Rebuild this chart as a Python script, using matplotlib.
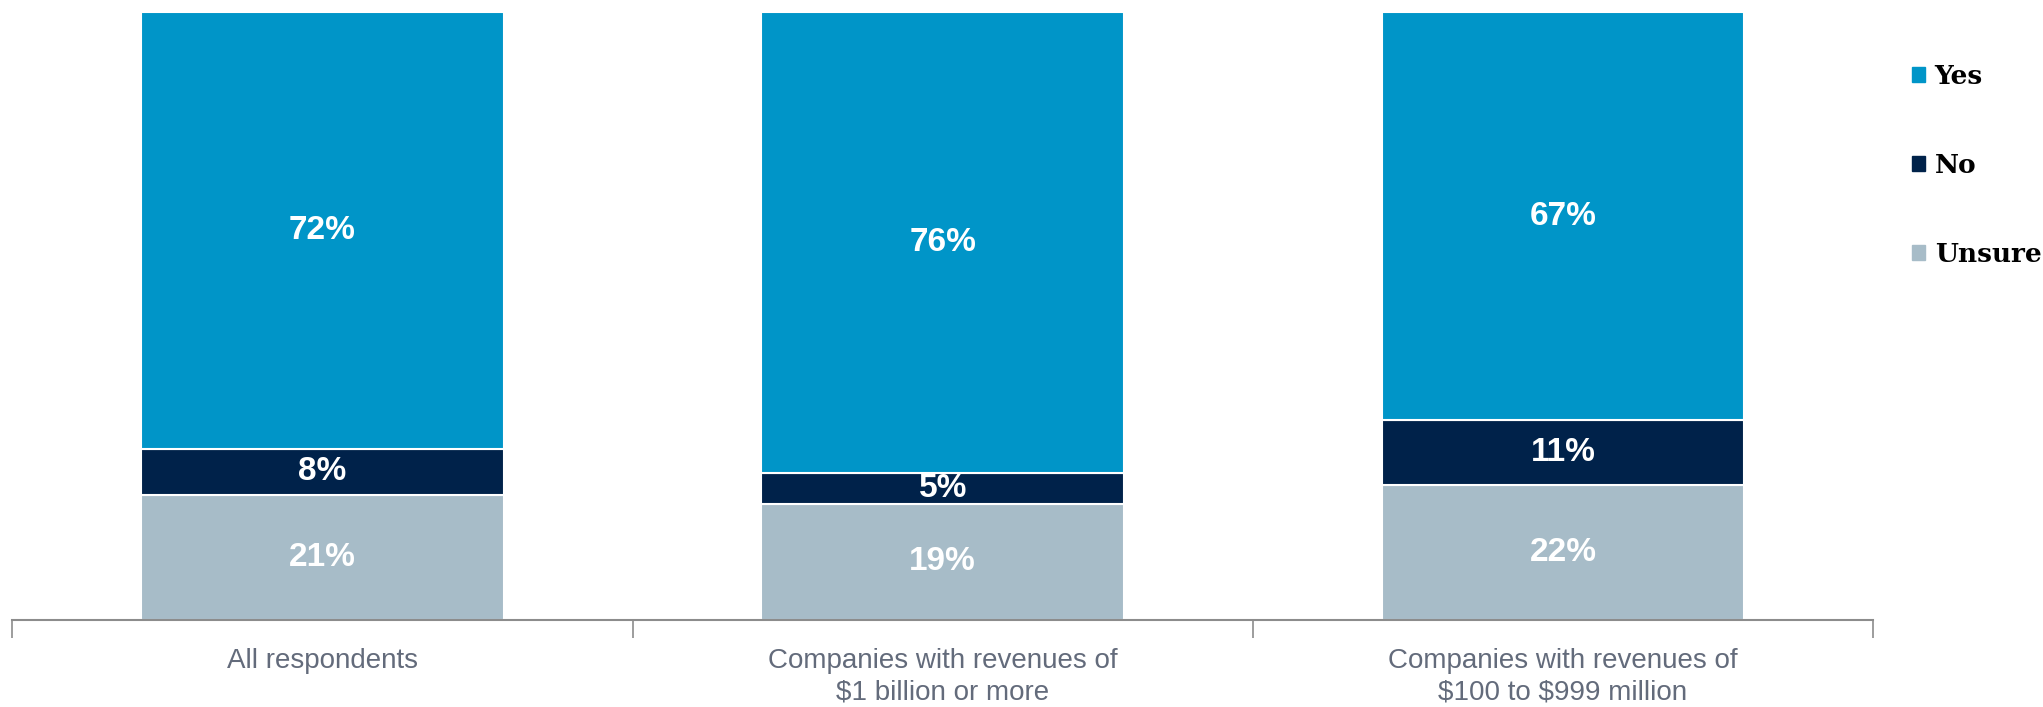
import numpy as np
import matplotlib
matplotlib.use("Agg")
import matplotlib.pyplot as plt
from matplotlib.patches import Patch

categories = ["All respondents",
              "Companies with revenues of\n\\$1 billion or more",
              "Companies with revenues of\n\\$100 to \\$999 million"]
yes = [71.8, 75.8, 67.1]
no = [7.6, 5.1, 10.7]
unsure = [20.6, 19.1, 22.2]

series = [("Unsure", unsure, "#a7bcc8"),
          ("No", no, "#00224a"),
          ("Yes", yes, "#0095c8")]

fig = plt.figure(figsize=(20.43, 7.07), dpi=100)
ax = fig.add_axes([0.0061, 0.123, 0.9107, 0.860])

x = np.arange(len(categories))
bottom = np.zeros(len(categories))
for name, vals, color in series:
    vals = np.array(vals)
    ax.bar(x, vals, width=0.585, bottom=bottom, color=color,
           edgecolor="white", linewidth=1.5, label=name)
    for xi, b, v in zip(x, bottom, vals):
        ax.text(xi, b + v / 2, f"{v:.0f}%", ha="center", va="center",
                color="white", fontsize=24, fontweight="bold",
                family="Liberation Sans")
    bottom += vals

ax.set_xlim(-0.5, 2.5)
ax.set_ylim(0, 100)
for s in ["top", "right", "left"]:
    ax.spines[s].set_visible(False)
ax.spines["bottom"].set_color("#8c8c8c")
ax.spines["bottom"].set_linewidth(1.5)
ax.set_yticks([])

ax.set_xticks(x)
ax.set_xticklabels(categories, fontsize=20, color="#636b7b",
                   family="Liberation Sans", linespacing=1.3)
ax.tick_params(axis="x", which="major", length=0, pad=20)
ax.set_xticks([-0.5, 0.5, 1.5, 2.5], minor=True)
ax.tick_params(axis="x", which="minor", length=13, width=1.2,
               color="#8c8c8c", direction="out")

handles = [Patch(color=c, label=n) for n, _, c in series[::-1]]
fig.legend(handles=handles, loc="center left", bbox_to_anchor=(0.936, 0.766),
           frameon=False, borderaxespad=0, borderpad=0,
           handlelength=0.5, handleheight=0.5, handletextpad=0.35,
           labelspacing=2.42,
           prop={"family": "DejaVu Serif", "size": 19, "weight": "bold"})

fig.savefig("out.png", dpi=100)
